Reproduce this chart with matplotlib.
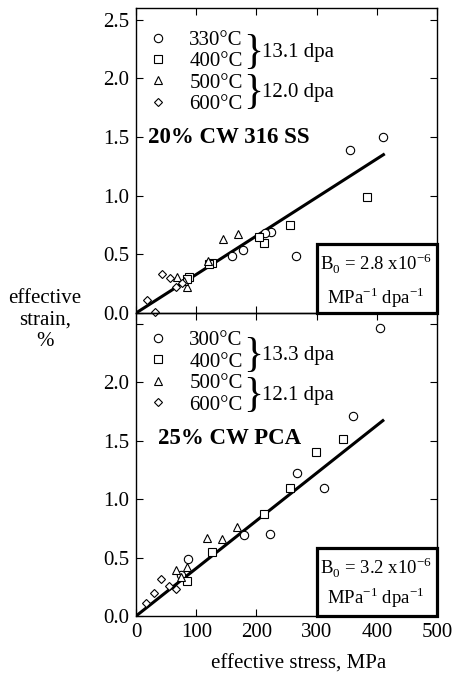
import matplotlib
matplotlib.use("Agg")
import matplotlib.pyplot as plt
from matplotlib.lines import Line2D
from matplotlib.patches import Rectangle

plt.rcParams['font.family'] = ['Liberation Serif', 'DejaVu Serif']
plt.rcParams['mathtext.fontset'] = 'custom'
plt.rcParams['mathtext.rm'] = 'Liberation Serif'

# ---- 20% CW 316 SS (top panel) ----
ss_330_x = [410, 356, 266, 224, 215, 177, 160]
ss_330_y = [1.50, 1.39, 0.49, 0.69, 0.68, 0.54, 0.49]
ss_out_x = [405]          # point plotted below the axis
ss_out_y = [-0.13]
ss_400_x = [384, 255, 213, 204, 127, 122, 88, 84]
ss_400_y = [0.99, 0.75, 0.60, 0.65, 0.43, 0.42, 0.31, 0.29]
ss_500_x = [169, 144, 120, 68, 84, 80]
ss_500_y = [0.67, 0.63, 0.44, 0.31, 0.22, 0.27]
ss_600_x = [19, 31, 43, 56, 67, 76]
ss_600_y = [0.11, 0.01, 0.33, 0.30, 0.22, 0.26]
ss_fit_x = [0, 411]
ss_fit_y = [0, 1.35]

# ---- 25% CW PCA (bottom panel) ----
pca_300_x = [360, 267, 313, 222, 179, 87, 74]
pca_300_y = [1.71, 1.22, 1.09, 0.70, 0.69, 0.49, 0.35]
pca_400_x = [343, 299, 255, 213, 127, 84]
pca_400_y = [1.51, 1.40, 1.09, 0.87, 0.55, 0.30]
pca_500_x = [168, 142, 118, 84, 66, 74]
pca_500_y = [0.76, 0.66, 0.67, 0.42, 0.39, 0.33]
pca_600_x = [16, 29, 42, 55, 67]
pca_600_y = [0.11, 0.20, 0.32, 0.26, 0.23]
pca_fit_x = [0, 410]
pca_fit_y = [0, 1.67]

mk = dict(linestyle='none', markerfacecolor='white', markeredgecolor='black',
          markeredgewidth=0.8)
FS = 15

fig = plt.figure(figsize=(4.55, 6.75), dpi=100)
ax1 = fig.add_axes([0.299, 0.5363, 0.6615, 0.4518])
ax2 = fig.add_axes([0.299, 0.0874, 0.6615, 0.4489])
ax2.patch.set_alpha(0)   # let the top panel's stray point show through


def style_axis(ax, top):
    ax.set_xlim(0, 500)
    ax.set_ylim(0, 2.6 if top else 2.59)
    ax.set_xticks([0, 100, 200, 300, 400, 500])
    ax.set_yticks([0, 0.5, 1.0, 1.5, 2.0, 2.5])
    if top:
        ax.set_yticklabels(['0.0', '0.5', '1.0', '1.5', '2.0', '2.5'])
        ax.tick_params(axis='x', labelbottom=False)
    else:
        ax.set_yticklabels(['0.0', '0.5', '1.0', '1.5', '2.0', ''])
    ax.tick_params(direction='in', top=True, right=True, length=5, width=0.8,
                   labelsize=FS, pad=5)
    for s in ax.spines.values():
        s.set_linewidth(1.0)


def add_box(ax, val, ytop, y1, y2):
    ax.add_patch(Rectangle((0.601, 0.0), 0.399, ytop, transform=ax.transAxes,
                           facecolor='white', edgecolor='black', linewidth=2.3,
                           clip_on=False, zorder=6))
    ax.text(0.797, y1, r'B$_0$ = ' + val + r' x10$^{-6}$', transform=ax.transAxes,
            ha='center', va='center', fontsize=13.5, zorder=7)
    ax.text(0.797, y2, r'MPa$^{-1}$ dpa$^{-1}$', transform=ax.transAxes,
            ha='center', va='center', fontsize=13.5, zorder=7)


def add_legend(ax, labels, dpa, y_top, y_hi, y_lo):
    handles = [Line2D([], [], marker='o', markersize=6, **mk),
               Line2D([], [], marker='s', markersize=5.5, **mk),
               Line2D([], [], marker='^', markersize=5.5, **mk),
               Line2D([], [], marker='D', markersize=4.5, **mk)]
    ax.legend(handles, labels, loc='upper left', bbox_to_anchor=(-0.01, y_top),
              frameon=False, fontsize=FS, handlelength=1.0,
              handletextpad=1.0, labelspacing=0.09, borderaxespad=0.3)
    for y, txt in ((y_hi, dpa[0]), (y_lo, dpa[1])):
        ax.text(0.39, y, '}', transform=ax.transAxes, fontsize=30,
                ha='center', va='center')
        ax.text(0.42, y, txt, transform=ax.transAxes, fontsize=FS,
                ha='left', va='center')


# top panel
ax1.plot(ss_fit_x, ss_fit_y, color='black', linewidth=2.2)
ax1.plot(ss_330_x, ss_330_y, marker='o', markersize=6, **mk)
ax1.plot(ss_out_x, ss_out_y, marker='o', markersize=6, clip_on=False, zorder=8, **mk)
ax1.plot(ss_400_x, ss_400_y, marker='s', markersize=5.5, **mk)
ax1.plot(ss_500_x, ss_500_y, marker='^', markersize=5.5, **mk)
ax1.plot(ss_600_x, ss_600_y, marker='D', markersize=4.5, clip_on=False, **mk)
style_axis(ax1, True)
add_legend(ax1, ['330°C', '400°C', '500°C', '600°C'], ['13.1 dpa', '12.0 dpa'],
           0.975, 0.855, 0.722)
ax1.text(0.04, 0.575, '20% CW 316 SS', transform=ax1.transAxes, fontsize=16.5,
         fontweight='bold', ha='left', va='center')
add_box(ax1, '2.8', 0.226, 0.16, 0.052)

# bottom panel
ax2.plot(pca_fit_x, pca_fit_y, color='black', linewidth=2.2)
ax2.plot(pca_300_x, pca_300_y, marker='o', markersize=6, **mk)
ax2.plot(pca_400_x, pca_400_y, marker='s', markersize=5.5, **mk)
ax2.plot(pca_500_x, pca_500_y, marker='^', markersize=5.5, **mk)
ax2.plot(pca_600_x, pca_600_y, marker='D', markersize=4.5, **mk)
style_axis(ax2, False)
add_legend(ax2, ['300°C', '400°C', '500°C', '600°C'], ['13.3 dpa', '12.1 dpa'],
           0.99, 0.86, 0.728)
ax2.text(0.073, 0.585, '25% CW PCA', transform=ax2.transAxes, fontsize=16.5,
         fontweight='bold', ha='left', va='center')
add_box(ax2, '3.2', 0.224, 0.158, 0.06)
ax2.set_xlabel('effective stress, MPa', fontsize=FS)
ax2.xaxis.set_label_coords(0.54, -0.128)

fig.text(45 / 455, 1 - 320 / 675, 'effective\nstrain,\n%', ha='center', va='center',
         fontsize=FS, linespacing=1.2)

fig.savefig('out.png', dpi=100)
